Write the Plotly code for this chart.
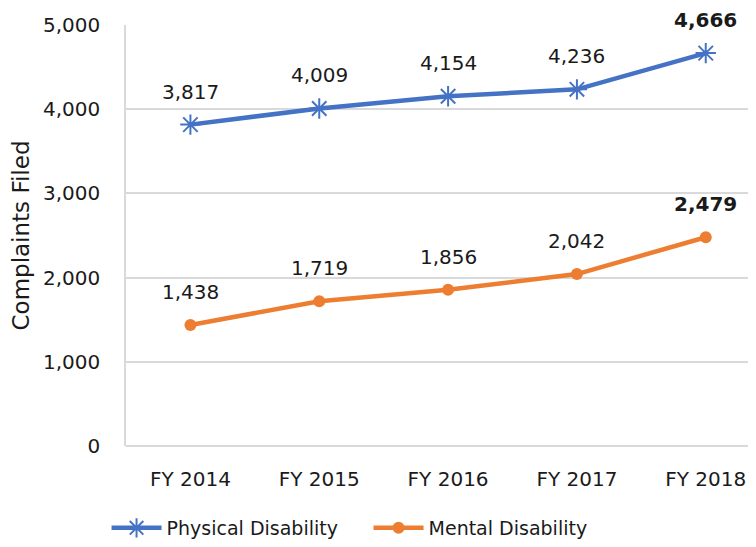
import plotly.graph_objects as go

years = ["FY 2014", "FY 2015", "FY 2016", "FY 2017", "FY 2018"]
physical = [3817, 4009, 4154, 4236, 4666]
mental = [1438, 1719, 1856, 2042, 2479]

BLUE = "#4472C4"
ORANGE = "#ED7D31"
FONT = "DejaVu Sans"
TXT = "#1a1a1a"


def labels(vals):
    out = []
    for i, v in enumerate(vals):
        t = f"{v:,}"
        out.append(f"<b>{t}</b>" if i == len(vals) - 1 else t)
    return out


fig = go.Figure()

fig.add_trace(go.Scatter(
    x=years, y=physical, name="Physical Disability",
    mode="lines+markers",
    line=dict(color=BLUE, width=4.5),
    marker=dict(symbol="asterisk-open", size=17, line=dict(color=BLUE, width=2)),
    cliponaxis=False,
))

fig.add_trace(go.Scatter(
    x=years, y=mental, name="Mental Disability",
    mode="lines+markers",
    line=dict(color=ORANGE, width=4.5),
    marker=dict(symbol="circle", size=12, color=ORANGE),
    cliponaxis=False,
))

# data labels above each point
for vals in (physical, mental):
    for yr, v, t in zip(years, vals, labels(vals)):
        fig.add_annotation(
            x=yr, y=v, text=t, showarrow=False, yshift=33,
            font=dict(size=20, color=TXT, family=FONT),
        )

fig.update_layout(
    width=748, height=539,
    plot_bgcolor="white", paper_bgcolor="white",
    font=dict(family=FONT, size=20, color=TXT),
    margin=dict(l=118, r=0, t=17, b=97),
    xaxis=dict(
        type="category", range=[-0.5, 4.39],
        showgrid=False, zeroline=False,
        showline=False, ticks="outside", tickcolor="white", ticklen=15,
        tickfont=dict(size=20),
    ),
    yaxis=dict(
        range=[0, 5000], dtick=1000, tickformat=",",
        showgrid=True, gridcolor="#D9D9D9", gridwidth=1.5,
        zeroline=True, zerolinecolor="#D9D9D9", zerolinewidth=1.5,
        showline=True, linecolor="#D9D9D9", linewidth=1.5,
        ticks="outside", tickcolor="white", ticklen=20,
        tickfont=dict(size=20),
        title=dict(text="Complaints Filed", font=dict(size=23), standoff=8),
    ),
    legend=dict(
        orientation="h", x=0.385, xanchor="center", y=-0.195, yanchor="middle",
        font=dict(size=19), itemwidth=50, entrywidth=197,
    ),
    showlegend=True,
)

fig.write_html("out.html")
